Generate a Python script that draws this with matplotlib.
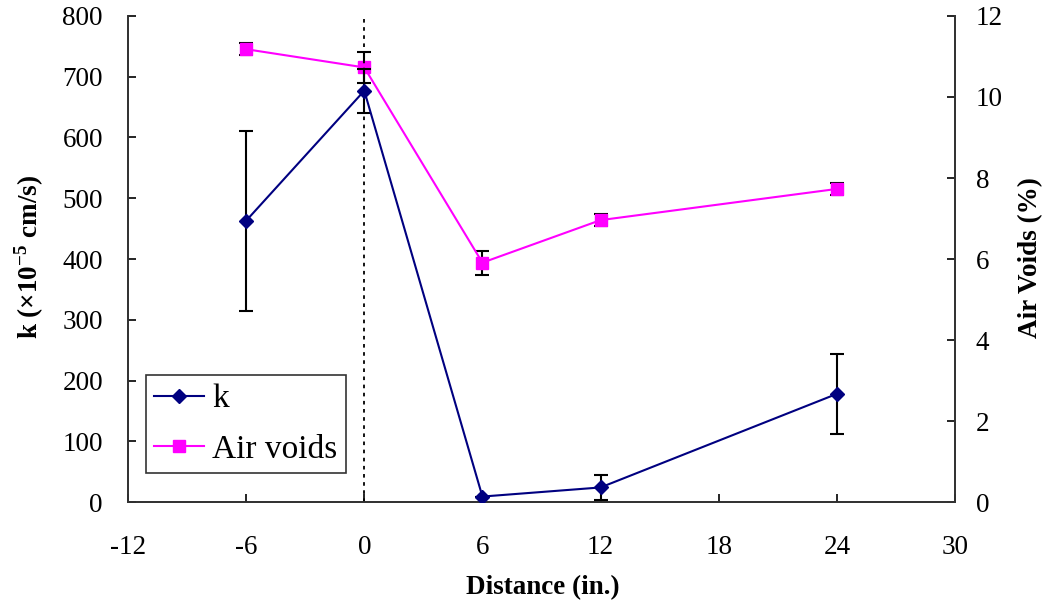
import matplotlib
matplotlib.use("Agg")
import matplotlib.pyplot as plt

plt.rcParams['font.family'] = ['Liberation Serif', 'DejaVu Serif']
plt.rcParams['mathtext.fontset'] = 'custom'
plt.rcParams['mathtext.rm'] = 'Liberation Serif'
plt.rcParams['mathtext.bf'] = 'Liberation Serif:bold'
plt.rcParams['axes.unicode_minus'] = False

distance = [-6, 0, 6, 12, 24]
k_values = [463, 677, 9, 24, 178]
k_err = [148, 36, 0, 21, 66]
air_voids = [11.18, 10.73, 5.91, 6.96, 7.73]
air_err = [0.15, 0.39, 0.30, 0.14, 0.14]
x_ticks = [-12, -6, 0, 6, 12, 18, 24, 30]
k_ticks = [0, 100, 200, 300, 400, 500, 600, 700, 800]
av_ticks = [0, 2, 4, 6, 8, 10, 12]

FS = 19.5

fig = plt.figure(figsize=(10.5, 6.08), dpi=100)
ax = fig.add_axes([0.1219, 0.1743, 0.7876, 0.7994])
ax2 = ax.twinx()

ax.set_zorder(2)
ax.patch.set_visible(False)

ax.axvline(0, color='black', linestyle=(0, (2, 2.5)), linewidth=1.3, zorder=1)

ax2.errorbar(distance, air_voids, yerr=air_err, fmt='none', ecolor='black',
             elinewidth=1.5, capsize=5, capthick=1.5, zorder=1)
l2, = ax2.plot(distance, air_voids, color='#FF00FF', marker='s', markersize=8,
               linewidth=1.5, label='Air voids', zorder=2)
ax.errorbar(distance, k_values, yerr=k_err, fmt='none', ecolor='black',
            elinewidth=1.5, capsize=5, capthick=1.5, zorder=2)
l1, = ax.plot(distance, k_values, color='#000080', marker='D', markersize=7,
              linewidth=1.5, label='k', zorder=3)

ax.set_xlim(-12, 30)
ax.set_ylim(0, 800)
ax2.set_ylim(0, 12)
ax.set_xticks(x_ticks)
ax.set_yticks(k_ticks)
ax2.set_yticks(av_ticks)

for a in (ax, ax2):
    a.spines['top'].set_visible(False)
    for s in a.spines.values():
        s.set_linewidth(1.3)
        s.set_color('#333333')
    a.tick_params(labelsize=FS, direction='in', length=6, width=1.2, colors='black')
ax.tick_params(axis='y', pad=18)
ax2.tick_params(axis='y', pad=15)
ax.tick_params(axis='x', pad=24)

ax.set_xlabel('Distance (in.)', fontsize=FS, fontweight='bold')
ax.set_ylabel(r'k ($\mathbf{\times}$10$^{\mathbf{-5}}$ cm/s)', fontsize=FS, fontweight='bold')
ax2.set_ylabel('Air Voids (%)', fontsize=FS, fontweight='bold')
ax.xaxis.set_label_coords(0.502, -0.150)
ax.yaxis.set_label_coords(-0.0992, 0.504)
ax2.yaxis.set_label_coords(1.0762, 0.504)

leg = ax.legend(handles=[l1, l2], loc='lower left', bbox_to_anchor=(0.0218, 0.0597),
                borderaxespad=0, fontsize=24, frameon=True, fancybox=False,
                edgecolor='black', handlelength=1.48, borderpad=0.25,
                labelspacing=0.6, handletextpad=0.25)
leg.get_frame().set_linewidth(1.2)

fig.savefig('out.png', dpi=100)
